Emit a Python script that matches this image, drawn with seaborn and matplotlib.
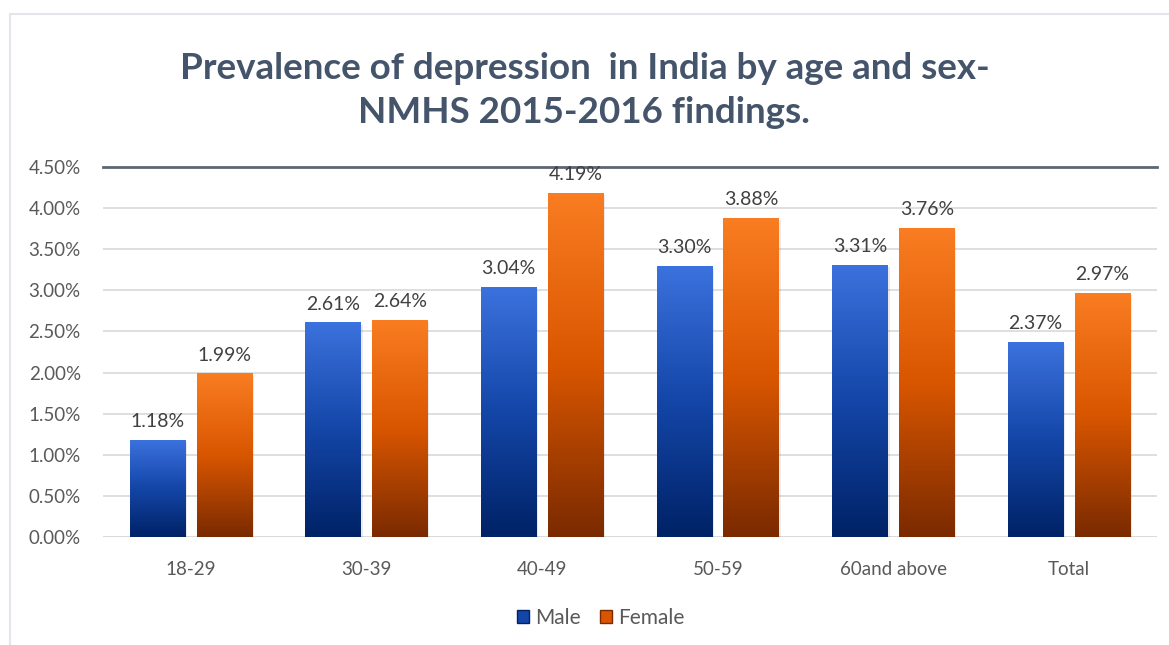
import numpy as np
import pandas as pd
import matplotlib
matplotlib.use("Agg")
import matplotlib.pyplot as plt
import seaborn as sns
from matplotlib.colors import LinearSegmentedColormap
from matplotlib.lines import Line2D
from matplotlib.patches import Patch
from matplotlib.ticker import MultipleLocator, FuncFormatter

# ------- DATA ---------
age_groups = ["18-29", "30-39", "40-49", "50-59", "60and above", "Total"]
male = [1.18, 2.61, 3.04, 3.30, 3.31, 2.37]
female = [1.99, 2.64, 4.19, 3.88, 3.76, 2.97]
series_names = ["Male", "Female"]

df = pd.DataFrame({
    "age": age_groups * 2,
    "value": male + female,
    "sex": [series_names[0]] * len(age_groups) + [series_names[1]] * len(age_groups),
})

# ------- STYLE ---------
sns.set_theme(style="white")
plt.rcParams["font.family"] = ["Lato", "DejaVu Sans"]

TEXT = "#595959"
GRID = "#d9d9d9"
blue_cmap = LinearSegmentedColormap.from_list("blue", ["#002266", "#1446a8", "#3c72de"])
orange_cmap = LinearSegmentedColormap.from_list("orange", ["#7a2a00", "#d95600", "#fa7d22"])

fig = plt.figure(figsize=(11.69, 6.45), dpi=100)
ax = fig.add_axes([0.0881, 0.1674, 0.9016, 0.5736])

sns.barplot(data=df, x="age", y="value", hue="sex", palette=["#1446a8", "#d95600"],
            width=0.762, gap=0.17, ax=ax, legend=False, zorder=3)

ax.set_ylim(0, 4.5)
ax.set_xlim(-0.5, len(age_groups) - 0.5)

# ------- GRADIENT FILL ---------
grad = np.linspace(0, 1, 256).reshape(-1, 1)
for cont, cmap in zip(ax.containers, [blue_cmap, orange_cmap]):
    for bar in cont:
        x0, y0 = bar.get_x(), bar.get_y()
        w, h = bar.get_width(), bar.get_height()
        # soft shadow
        ax.add_patch(plt.Rectangle((x0 + 0.01, y0 - 0.03), w, h, color="#000000",
                                   alpha=0.08, zorder=2, lw=0))
        im = ax.imshow(grad, cmap=cmap, origin="lower", aspect="auto",
                       extent=[x0, x0 + w, y0, y0 + h], zorder=3.5)
        im.set_clip_path(bar)
        bar.set_facecolor("none")
        bar.set_edgecolor("none")
    ax.bar_label(cont, labels=[f"{v:.2f}%" for v in cont.datavalues], padding=7,
                 fontsize=14, color="#404040")

ax.set_ylim(0, 4.5)
ax.set_xlim(-0.5, len(age_groups) - 0.5)

# ------- AXES ---------
ax.yaxis.set_major_locator(MultipleLocator(0.5))
ax.yaxis.set_major_formatter(FuncFormatter(lambda v, p: f"{v:.2f}%"))
ax.grid(axis="y", color=GRID, lw=1.2, zorder=0)
ax.set_axisbelow(True)
for s in ["left", "right", "bottom"]:
    ax.spines[s].set_visible(False)
ax.spines["top"].set_color("#5d6673")
ax.spines["top"].set_linewidth(2)
ax.axhline(0, color=GRID, lw=1.2, zorder=1)
ax.tick_params(axis="y", length=0, pad=16, labelsize=13.5, labelcolor=TEXT)
ax.tick_params(axis="x", length=0, pad=17, labelsize=13.5, labelcolor=TEXT)
ax.set_xlabel("")
ax.set_ylabel("")

# ------- TITLE ---------
fig.text(0.5, 0.86, "Prevalence of depression  in India by age and sex-\nNMHS 2015-2016 findings.",
         ha="center", va="center", fontsize=26.5, fontweight="bold", color="#44546a",
         linespacing=1.4)

# ------- LEGEND ---------
handles = [Patch(facecolor="#1446a8", edgecolor="#002266"),
           Patch(facecolor="#d95600", edgecolor="#7a2a00")]
fig.legend(handles, series_names, loc="center", bbox_to_anchor=(0.514, 0.042), ncol=2,
           frameon=False, fontsize=15, handlelength=0.6, handleheight=0.6,
           handletextpad=0.3, columnspacing=0.9, labelcolor=TEXT)

# ------- CHART BORDER ---------
fig.add_artist(Line2D([0.0085, 0.0085], [0, 0.978], color="#e3e6ed", lw=1.5))
fig.add_artist(Line2D([0.0085, 1.0], [0.978, 0.978], color="#e3e6ed", lw=1.5))

fig.savefig("out.png", dpi=100)
